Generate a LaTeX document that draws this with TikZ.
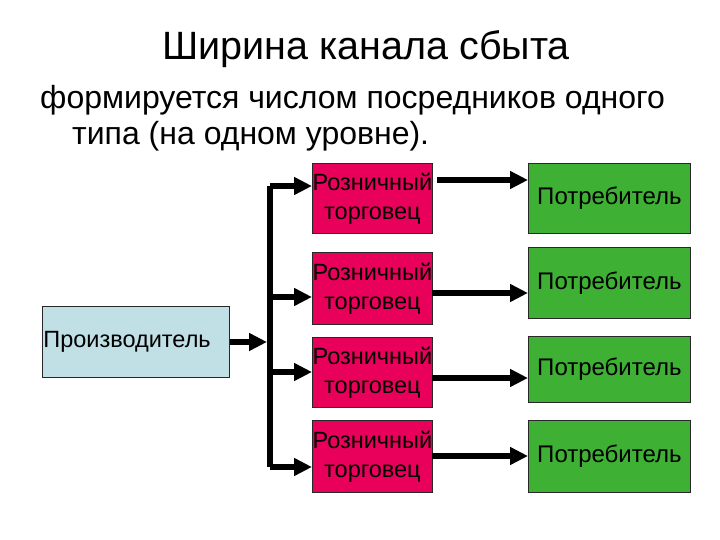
\documentclass[tikz,border=0pt]{standalone}
\usepackage{fontspec}
\setmainfont{Liberation Sans}
\usetikzlibrary{arrows.meta,calc}
\definecolor{retail}{RGB}{232,0,90}
\definecolor{consumer}{RGB}{62,176,52}
\definecolor{producer}{RGB}{192,224,230}
\definecolor{edge}{RGB}{40,40,40}
\tikzset{
  boxbase/.style={draw=edge, line width=0.9pt, anchor=north west, inner sep=0pt},
  retailbox/.style={boxbase, fill=retail, minimum width=120pt, align=center,
    font=\fontsize{23.5}{29}\selectfont},
  consbox/.style={boxbase, fill=consumer, minimum width=162pt,
    font=\fontsize{24}{28}\selectfont},
  prodbox/.style={boxbase, fill=producer, minimum width=187pt, minimum height=71pt,
    font=\fontsize{23.5}{28}\selectfont, text width=185pt, align=left},
  conn/.style={line width=5.5pt, draw=black},
  arr/.style={conn, -{Triangle[length=18pt,width=17pt]}},
}
\begin{document}
\begin{tikzpicture}[x=1pt,y=-1pt]
\useasboundingbox (0,0) rectangle (720,540);
\fill[white] (0,0) rectangle (720,540);
\node[anchor=base, font=\fontsize{39.5}{44}\selectfont] (title) at (366,60) {Ширина канала сбыта};
\node[anchor=base west, inner sep=0pt, font=\fontsize{32}{36}\selectfont] (l1) at (40,109) {формируется числом посредников одного};
\node[anchor=base west, inner sep=0pt, font=\fontsize{32}{36}\selectfont] (l2) at (72,145) {типа (на одном уровне).};

\node[prodbox] (p) at (42,306) {Производитель};

\node[retailbox, minimum height=70pt] (r1) at (312,163) {Розничный\\торговец};
\node[retailbox, minimum height=72pt] (r2) at (312,252) {Розничный\\торговец};
\node[retailbox, minimum height=70pt] (r3) at (312,337) {Розничный\\торговец};
\node[retailbox, minimum height=72pt] (r4) at (312,420) {Розничный\\торговец};

\node[consbox, minimum height=70pt] (c1) at (528,163) {Потребитель};
\node[consbox, minimum height=71pt] (c2) at (528,247) {Потребитель};
\node[consbox, minimum height=66pt] (c3) at (528,336) {Потребитель};
\node[consbox, minimum height=72pt] (c4) at (528,420) {Потребитель};

\coordinate (b1) at (270,186);
\coordinate (b2) at (270,297);
\coordinate (b3) at (270,372);
\coordinate (b4) at (270,467);
\coordinate (bm) at (267,342);

\draw[conn, line cap=square] (b1) -- (b4);
\draw[arr] (p.east |- bm) -- (bm);
\draw[arr] (b1) -- (b1 -| r1.west);
\draw[arr] (b2) -- (b2 -| r2.west);
\draw[arr] (b3) -- (b3 -| r3.west);
\draw[arr] (b4) -- (b4 -| r4.west);

\coordinate (k1) at (437,180);
\coordinate (k2) at (432,293);
\coordinate (k3) at (432,378);
\coordinate (k4) at (432,456);
\draw[arr] (k1) -- (k1 -| c1.west);
\draw[arr] (k2) -- (k2 -| c2.west);
\draw[arr] (k3) -- (k3 -| c3.west);
\draw[arr] (k4) -- (k4 -| c4.west);
\end{tikzpicture}
\end{document}
